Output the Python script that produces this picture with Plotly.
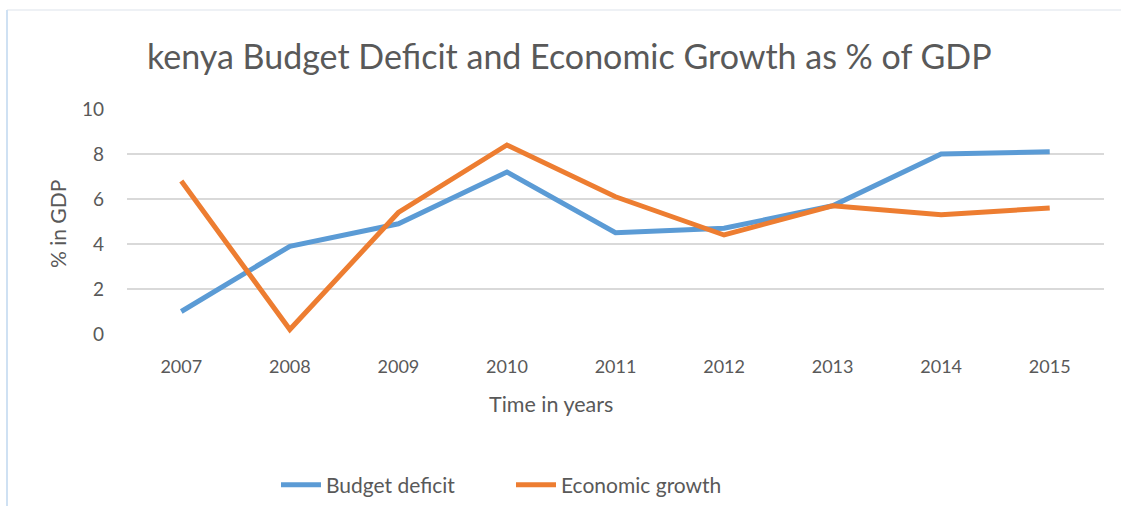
import plotly.graph_objects as go

# Kenya: budget deficit and real GDP growth, both as % of GDP
years = ["2007", "2008", "2009", "2010", "2011", "2012", "2013", "2014", "2015"]
budget_deficit = [1.0, 3.9, 4.9, 7.2, 4.5, 4.7, 5.7, 8.0, 8.1]
economic_growth = [6.8, 0.2, 5.4, 8.4, 6.1, 4.4, 5.7, 5.3, 5.6]
y_ticks = [0, 2, 4, 6, 8, 10]

FONT = "Lato"
TEXT_GREY = "#595959"
W, H = 1122, 506
L, R, T, B = 127, 18, 109, 172
PW, PH = W - L - R, H - T - B


def px_x(x):
    return (x - L) / PW


def px_y(y):
    return (H - B - y) / PH


fig = go.Figure()
fig.add_trace(go.Scatter(
    x=years, y=budget_deficit, mode="lines", name="Budget deficit",
    line=dict(color="#5B9BD5", width=5),
))
fig.add_trace(go.Scatter(
    x=years, y=economic_growth, mode="lines", name="Economic growth",
    line=dict(color="#ED7D31", width=5),
))

fig.update_layout(
    width=W, height=H,
    margin=dict(l=L, r=R, t=T, b=B, autoexpand=False),
    paper_bgcolor="white", plot_bgcolor="white",
    font=dict(family=FONT, color=TEXT_GREY, size=18),
    showlegend=True,
    legend=dict(
        orientation="h", xref="container", yref="container",
        x=276 / W, xanchor="left", y=(H - 485) / H, yanchor="middle",
        font=dict(size=21, color=TEXT_GREY), itemwidth=40,
        entrywidth=180, bgcolor="rgba(0,0,0,0)",
    ),
    xaxis=dict(
        type="category", range=[-0.5, 8.5], showgrid=False, zeroline=False,
        showline=False, ticks="", tickfont=dict(size=18, color=TEXT_GREY),
        ticklabelstandoff=20, automargin=False,
    ),
    yaxis=dict(
        range=[0, 10], tickvals=y_ticks, showgrid=True, gridcolor="#d9d9d9",
        gridwidth=1.5, zeroline=False, showline=False, ticks="",
        tickfont=dict(size=19, color=TEXT_GREY), ticklabelstandoff=22,
        automargin=False,
    ),
    annotations=[
        dict(text="kenya Budget Deficit and Economic Growth as % of GDP",
             xref="paper", yref="paper", x=px_x(569), y=px_y(55),
             xanchor="center", yanchor="middle", showarrow=False,
             font=dict(size=34, color=TEXT_GREY, family=FONT)),
        dict(text="% in GDP", xref="paper", yref="paper",
             x=px_x(57), y=px_y(224), textangle=-90,
             xanchor="center", yanchor="middle", showarrow=False,
             font=dict(size=21, color=TEXT_GREY, family=FONT)),
        dict(text="Time in years", xref="paper", yref="paper",
             x=px_x(551), y=px_y(404),
             xanchor="center", yanchor="middle", showarrow=False,
             font=dict(size=21.5, color=TEXT_GREY, family=FONT)),
    ],
    shapes=[
        # faint chart-area frame
        dict(type="line", xref="paper", yref="paper",
             x0=px_x(7), x1=px_x(1121), y0=px_y(10), y1=px_y(10),
             line=dict(color="#eef1f5", width=2)),
        dict(type="line", xref="paper", yref="paper",
             x0=px_x(7), x1=px_x(7), y0=px_y(10), y1=px_y(H),
             line=dict(color="#cfe1f3", width=2)),
    ],
)

fig.write_html("out.html")
